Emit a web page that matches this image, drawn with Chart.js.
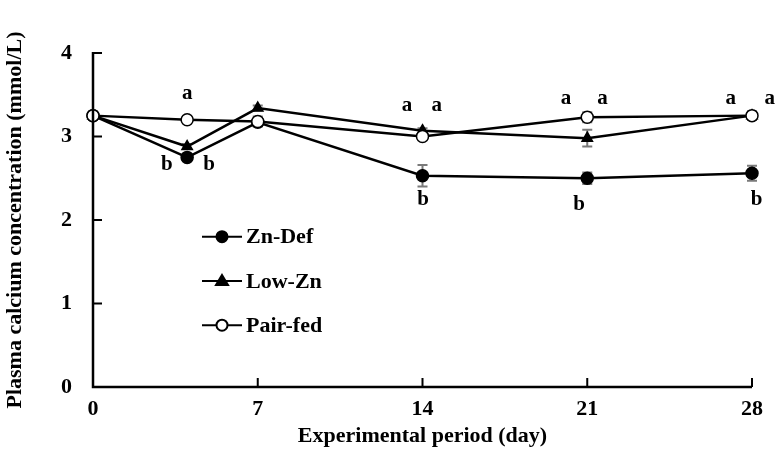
<!DOCTYPE html>
<html>
<head>
<meta charset="utf-8">
<script src="https://cdn.jsdelivr.net/npm/chart.js@4"></script>
<style>
  html, body { margin: 0; padding: 0; background: #fff; }
  #wrap { width: 777px; height: 461px; }
</style>
</head>
<body>
<div id="wrap"><canvas id="myChart" width="777" height="461"></canvas></div>
<script>
// 데이터 (day, mmol/L)
const days = [0, 4, 7, 14, 21, 28];
const znDef = [3.25, 2.75, 3.17, 2.53, 2.50, 2.56];
const lowZn = [3.25, 2.88, 3.34, 3.07, 2.98, 3.25];
const pairFed = [3.25, 3.20, 3.18, 3.00, 3.23, 3.25];

// 표준오차
const znDefErr = [0, 0.03, 0.03, 0.13, 0.07, 0.09];
const lowZnErr = [0, 0.03, 0.03, 0.03, 0.10, 0.03];
const pairFedErr = [0.03, 0.03, 0.06, 0.04, 0.06, 0.05];

const xTicks = [0, 7, 14, 21, 28];
const yTicks = [0, 1, 2, 3, 4];

// 유의성 문자
const sigText = ["a", "b", "b", "a", "a", "b", "a", "a", "b", "a", "a", "b"];
const sigDay = [4, 3.14, 4.93, 13.34, 14.61, 14.02, 20.1, 21.65, 20.65, 27.1, 28.75, 28.2];
const sigValue = [3.52, 2.66, 2.66, 3.37, 3.37, 2.24, 3.46, 3.46, 2.18, 3.46, 3.46, 2.24];

const serif = "'Liberation Serif', 'DejaVu Serif', serif";

const toPoints = (vals) => vals.map((v, i) => ({ x: days[i], y: v }));

const series = [
  { label: "Zn-Def", data: znDef, err: znDefErr, style: "circle", fill: "#000", order: 2 },
  { label: "Low-Zn", data: lowZn, err: lowZnErr, style: "triangle", fill: "#000", order: 1 },
  { label: "Pair-fed", data: pairFed, err: pairFedErr, style: "circle", fill: "#fff", order: 0 },
];

// 오차막대 + 안쪽 눈금 + 범례 + 문자
const extrasPlugin = {
  id: "extras",
  beforeDatasetsDraw(chart) {
    const { ctx, scales } = chart;
    const xs = scales.x, ys = scales.y;
    ctx.save();
    ctx.strokeStyle = "#7a7a7a";
    ctx.lineWidth = 2;
    series.forEach((s) => {
      s.data.forEach((v, i) => {
        const e = s.err[i];
        if (!e) return;
        const px = xs.getPixelForValue(days[i]);
        const top = ys.getPixelForValue(v + e);
        const bot = ys.getPixelForValue(v - e);
        ctx.beginPath();
        ctx.moveTo(px, top); ctx.lineTo(px, bot);
        ctx.moveTo(px - 5, top); ctx.lineTo(px + 5, top);
        ctx.moveTo(px - 5, bot); ctx.lineTo(px + 5, bot);
        ctx.stroke();
      });
    });
    ctx.restore();
  },
  afterDraw(chart) {
    const { ctx, scales, chartArea } = chart;
    const xs = scales.x, ys = scales.y;
    ctx.save();
    // 축선
    ctx.strokeStyle = "#000";
    ctx.lineWidth = 2.5;
    ctx.beginPath();
    ctx.moveTo(chartArea.left, chartArea.top - 1);
    ctx.lineTo(chartArea.left, chartArea.bottom);
    ctx.lineTo(chartArea.right, chartArea.bottom);
    ctx.stroke();
    // 안쪽 눈금
    ctx.lineWidth = 2;
    ctx.beginPath();
    yTicks.forEach((t) => {
      const py = ys.getPixelForValue(t);
      ctx.moveTo(chartArea.left, py); ctx.lineTo(chartArea.left + 9, py);
    });
    xTicks.slice(1).forEach((t) => {
      const px = xs.getPixelForValue(t);
      ctx.moveTo(px, chartArea.bottom); ctx.lineTo(px, chartArea.bottom - 9);
    });
    ctx.stroke();

    // 범례
    ctx.font = "bold 22px " + serif;
    ctx.textBaseline = "middle";
    ctx.textAlign = "left";
    series.forEach((s, i) => {
      const ly = ys.getPixelForValue(1.8 - i * 0.53);
      ctx.strokeStyle = "#000";
      ctx.lineWidth = 2;
      ctx.beginPath();
      ctx.moveTo(202, ly); ctx.lineTo(242, ly);
      ctx.stroke();
      ctx.fillStyle = s.fill;
      ctx.beginPath();
      if (s.style === "circle") {
        ctx.arc(222, ly, 5.5, 0, Math.PI * 2);
      } else {
        ctx.moveTo(222, ly - 6); ctx.lineTo(228, ly + 4); ctx.lineTo(216, ly + 4); ctx.closePath();
      }
      ctx.fill();
      ctx.stroke();
      ctx.fillStyle = "#000";
      ctx.fillText(s.label, 246, ly + 1);
    });

    // 유의성 문자
    ctx.font = "bold 21px " + serif;
    ctx.textAlign = "center";
    sigText.forEach((t, i) => {
      ctx.fillText(t, xs.getPixelForValue(sigDay[i]), ys.getPixelForValue(sigValue[i]));
    });
    ctx.restore();
  },
};

const ctx = document.getElementById("myChart").getContext("2d");
new Chart(ctx, {
  type: "line",
  data: {
    datasets: series.map((s) => ({
      label: s.label,
      data: toPoints(s.data),
      order: s.order,
      borderColor: "#000",
      borderWidth: 2.5,
      pointStyle: s.style,
      pointRadius: 6,
      pointBackgroundColor: s.fill,
      pointBorderColor: "#000",
      pointBorderWidth: 1.5,
      tension: 0,
      clip: false,
    })),
  },
  options: {
    responsive: false,
    animation: false,
    layout: { padding: { top: 53, right: 25, left: 0, bottom: 0 } },
    plugins: { legend: { display: false }, tooltip: { enabled: false } },
    scales: {
      x: {
        type: "linear",
        min: 0,
        max: 28,
        afterBuildTicks: (axis) => { axis.ticks = xTicks.map((v) => ({ value: v })); },
        afterFit: (axis) => { axis.height = 74; },
        grid: { display: false, drawTicks: false },
        border: { display: false },
        ticks: { color: "#000", padding: 9, font: { family: serif, size: 22, weight: "bold" } },
        title: {
          display: true,
          text: "Experimental period (day)",
          color: "#000",
          padding: { top: 11, bottom: 11 },
          font: { family: serif, size: 22, weight: "bold" },
        },
      },
      y: {
        min: 0,
        max: 4,
        afterBuildTicks: (axis) => { axis.ticks = yTicks.map((v) => ({ value: v })); },
        afterFit: (axis) => { axis.width = 93; },
        grid: { display: false, drawTicks: false },
        border: { display: false },
        ticks: { color: "#000", padding: 21, font: { family: serif, size: 22, weight: "bold" } },
        title: {
          display: true,
          text: "Plasma calcium concentration (mmol/L)",
          color: "#000",
          padding: { top: 2, bottom: 2 },
          font: { family: serif, size: 22, weight: "bold" },
        },
      },
    },
  },
  plugins: [extrasPlugin],
});
</script>
</body>
</html>
